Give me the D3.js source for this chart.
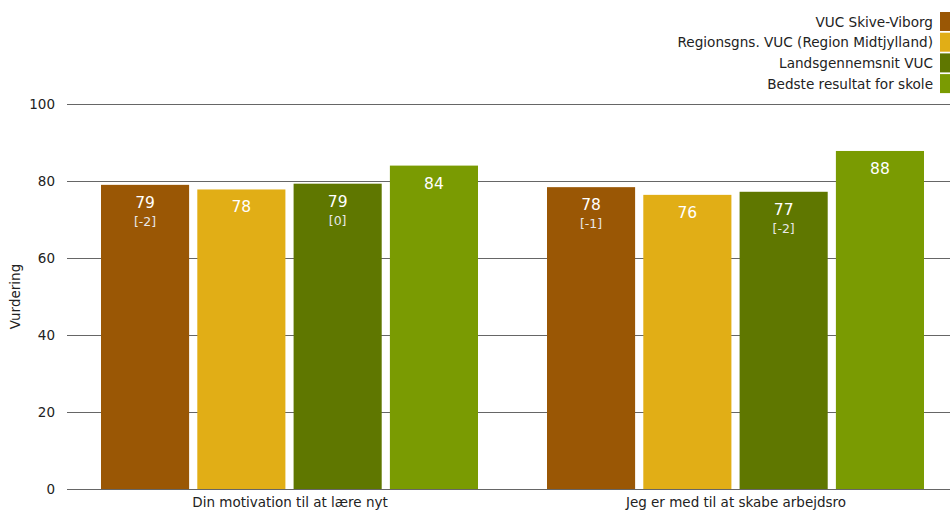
<!DOCTYPE html>
<meta charset="utf-8">
<script src="https://d3js.org/d3.v7.min.js"></script>
<style>
  body { margin: 0; background: #fff; }
  text { font-family: "DejaVu Sans", Verdana, sans-serif; }
</style>
<div id="chart"></div>
<script>
  // data
  const categories = ["Din motivation til at lære nyt", "Jeg er med til at skabe arbejdsro"];
  const seriesNames = ["VUC Skive-Viborg", "Regionsgns. VUC (Region Midtjylland)", "Landsgennemsnit VUC", "Bedste resultat for skole"];
  const seriesColors = ["#9a5705", "#e1ae16", "#5f7700", "#7a9b02"];
  const values = [
    [79.0, 77.8, 79.3, 84.0],
    [78.4, 76.4, 77.2, 87.8]
  ];
  const valueLabels = [
    ["79", "78", "79", "84"],
    ["78", "76", "77", "88"]
  ];
  const diffLabels = [
    ["[-2]", null, "[0]", null],
    ["[-1]", null, "[-2]", null]
  ];
  const yTicks = [0, 20, 40, 60, 80, 100];

  const W = 950, H = 513;
  const margin = { top: 104, right: -9, bottom: 24, left: 67 };
  const width = W - margin.left - margin.right,
    height = H - margin.top - margin.bottom;

  const svg = d3.select("#chart").append("svg")
    .attr("width", W).attr("height", H);
  const g = svg.append("g")
    .attr("transform", `translate(${margin.left},${margin.top})`);

  const y = d3.scaleLinear().domain([0, 100]).range([height, 0]);
  const x0 = d3.scaleBand().domain(d3.range(categories.length)).range([0, width]);
  const x1 = d3.scaleBand().domain(d3.range(seriesNames.length))
    .range([34, x0.bandwidth() - 35]).paddingInner(0.085);

  // gridlines
  g.selectAll("line.grid").data(yTicks).join("line")
    .attr("class", "grid")
    .attr("x1", 0).attr("x2", width)
    .attr("y1", d => Math.round(y(d)) + 0.5).attr("y2", d => Math.round(y(d)) + 0.5)
    .attr("stroke", "#666").attr("stroke-width", 1);

  g.selectAll("text.ytick").data(yTicks).join("text")
    .attr("class", "ytick")
    .attr("x", -12).attr("y", d => y(d))
    .attr("dy", "0.35em").attr("text-anchor", "end")
    .attr("font-size", 13.5).attr("fill", "#222")
    .text(d => d);

  g.append("text")
    .attr("transform", `translate(-47,${height / 2}) rotate(-90)`)
    .attr("text-anchor", "middle").attr("font-size", 13.5).attr("fill", "#222")
    .text("Vurdering");

  // bars
  const groups = g.selectAll("g.group").data(values).join("g")
    .attr("class", "group")
    .attr("transform", (d, i) => `translate(${x0(i)},0)`);

  groups.each(function (vals, gi) {
    const grp = d3.select(this);
    grp.selectAll("rect").data(vals).join("rect")
      .attr("x", (d, i) => x1(i))
      .attr("width", x1.bandwidth())
      .attr("y", d => y(d))
      .attr("height", d => height - y(d))
      .attr("fill", (d, i) => seriesColors[i]);

    grp.selectAll("text.val").data(vals).join("text")
      .attr("class", "val")
      .attr("x", (d, i) => x1(i) + x1.bandwidth() / 2)
      .attr("y", d => y(d) + 23)
      .attr("text-anchor", "middle").attr("font-size", 15.5).attr("fill", "#fff")
      .text((d, i) => valueLabels[gi][i]);

    grp.selectAll("text.diff").data(vals).join("text")
      .attr("class", "diff")
      .attr("x", (d, i) => x1(i) + x1.bandwidth() / 2)
      .attr("y", d => y(d) + 41)
      .attr("text-anchor", "middle").attr("font-size", 12.5).attr("fill", "#e8e8e8")
      .text((d, i) => diffLabels[gi][i] || "");
  });

  // category labels
  g.selectAll("text.cat").data(categories).join("text")
    .attr("class", "cat")
    .attr("x", (d, i) => x0(i) + x0.bandwidth() / 2)
    .attr("y", height + 18)
    .attr("text-anchor", "middle").attr("font-size", 13.5).attr("fill", "#222")
    .text(d => d);

  // legend
  const legend = svg.append("g").attr("transform", "translate(940,12)");
  const items = legend.selectAll("g").data(seriesNames).join("g")
    .attr("transform", (d, i) => `translate(0,${i * 20.7})`);
  items.append("rect")
    .attr("width", 12).attr("height", 19)
    .attr("fill", (d, i) => seriesColors[i]);
  items.append("text")
    .attr("x", -7).attr("y", 10).attr("dy", "0.35em")
    .attr("text-anchor", "end").attr("font-size", 13.6).attr("fill", "#222")
    .text(d => d);
</script>
